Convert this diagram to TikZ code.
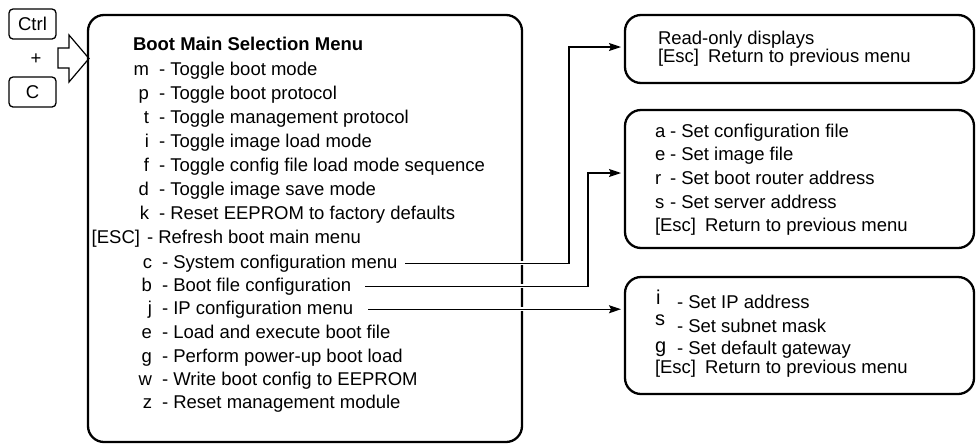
\documentclass[tikz,border=0pt]{standalone}
\usepackage{fontspec}
\setmainfont{Liberation Sans}
\usetikzlibrary{arrows.meta}
\begin{document}
\begin{tikzpicture}[x=1pt,y=-1pt,
  every node/.style={inner sep=0pt, outer sep=0pt, font=\fontsize{18.5}{22}\selectfont},
  keybox/.style={draw, line width=1.3pt, rounded corners=4pt, minimum width=47pt, minimum height=30pt},
  menubox/.style={draw, line width=2.3pt, rounded corners=16pt},
  keyl/.style={anchor=base east},
  textl/.style={anchor=base west},
  bigkey/.style={anchor=base west, font=\fontsize{20}{24}\selectfont},
  conn/.style={line width=1.2pt, -{Stealth[length=12pt,width=8pt,inset=2pt]}, shorten >=4pt},
  halo/.style={white, line width=4.5pt}
]
\useasboundingbox (0,0) rectangle (976,445);

% keys
\node[keybox] (ctrl) at (32.5,24) {Ctrl};
\node (plus) at (36,59) {+};
\node[keybox] (ckey) at (32.5,92) {C};
\draw[line width=1.2pt] (58,48) -- (69,48) -- (69,35) -- (89,58.5) -- (69,82) -- (69,68) -- (58,68) -- cycle;

% boxes
\node[menubox, minimum width=434pt, minimum height=427pt] (main) at (305,228.5) {};
\node[menubox, minimum width=349pt, minimum height=68pt] (box1) at (799.5,49) {};
\node[menubox, minimum width=349pt, minimum height=138pt] (box2) at (799.5,179) {};
\node[menubox, minimum width=349pt, minimum height=117pt] (box3) at (799.5,335.5) {};

% main menu
\node[textl, font=\fontsize{18.5}{22}\selectfont\bfseries] (title) at (133,50) {Boot Main Selection Menu};
\node[keyl] (km) at (149,75) {m};  \node[textl] (tm) at (159,75) {- Toggle boot mode};
\node[keyl] (kp) at (149,99) {p};  \node[textl] (tp) at (159,99) {- Toggle boot protocol};
\node[keyl] (kt) at (149,123) {t}; \node[textl] (tt) at (159,123) {- Toggle management protocol};
\node[keyl] (ki) at (149,147) {i}; \node[textl] (ti) at (159,147) {- Toggle image load mode};
\node[keyl] (kf) at (149,171) {f}; \node[textl] (tf) at (159,171) {- Toggle config file load mode sequence};
\node[keyl] (kd) at (149,195) {d}; \node[textl] (td) at (159,195) {- Toggle image save mode};
\node[keyl] (kk) at (149,219) {k}; \node[textl] (tk) at (159,219) {- Reset EEPROM to factory defaults};
\node[keyl] (kesc) at (140,243.5) {[ESC]}; \node[textl] (tesc) at (147,243.5) {- Refresh boot main menu};
\node[keyl] (kc) at (152,268) {c}; \node[textl] (csys) at (162,268) {- System configuration menu};
\node[keyl] (kb) at (152,291) {b}; \node[textl] (bfile) at (162,291) {- Boot file configuration};
\node[keyl] (kj) at (152,314) {j}; \node[textl] (jip) at (162,314) {- IP configuration menu};
\node[keyl] (ke) at (152,338) {e}; \node[textl] (te) at (162,338) {- Load and execute boot file};
\node[keyl] (kg) at (152,362) {g}; \node[textl] (tg) at (162,362) {- Perform power-up boot load};
\node[keyl] (kw) at (152,385) {w}; \node[textl] (tw) at (162,385) {- Write boot config to EEPROM};
\node[keyl] (kz) at (152,408) {z}; \node[textl] (tz) at (162,408) {- Reset management module};

% box1
\node[textl] (r1) at (658,44) {Read-only displays};
\node[textl] (r2) at (658,62) {[Esc]\hspace{9pt}Return to previous menu};

% box2
\node[textl] (ka) at (655,137) {a};   \node[textl] (sa) at (670,137) {- Set configuration file};
\node[textl] (ke2) at (655,160.7) {e}; \node[textl] (se) at (670,160.7) {- Set image file};
\node[textl] (kr) at (655,184.4) {r}; \node[textl] (sr) at (670,184.4) {- Set boot router address};
\node[textl] (ks) at (655,208.1) {s}; \node[textl] (ss) at (670,208.1) {- Set server address};
\node[textl] (esc2) at (655,231.8) {[Esc]\hspace{9pt}Return to previous menu};

% box3
\node[bigkey] (ki3) at (656,304) {i}; \node[textl] (si3) at (677,308) {- Set IP address};
\node[bigkey] (ks3) at (655,325) {s}; \node[textl] (ss3) at (677,332) {- Set subnet mask};
\node[bigkey] (kg3) at (655,352) {g}; \node[textl] (sg3) at (677,354) {- Set default gateway};
\node[textl] (esc3) at (655,373) {[Esc]\hspace{9pt}Return to previous menu};

% connectors
\draw[halo] ([xshift=8pt]csys.east) -- ++(150,0);
\draw[halo] ([xshift=14pt]bfile.east) -- ++(200,0);
\draw[halo] ([xshift=15pt]jip.east) -- ++(200,0);
\draw[conn] ([xshift=8pt]csys.east) -| (569,47) -- (box1.west |- 569,47);
\draw[conn] ([xshift=14pt]bfile.east) -| (588,173) -- (box2.west |- 588,173);
\draw[conn] ([xshift=15pt]jip.east) -- (box3.west |- jip.east);
\end{tikzpicture}
\end{document}
